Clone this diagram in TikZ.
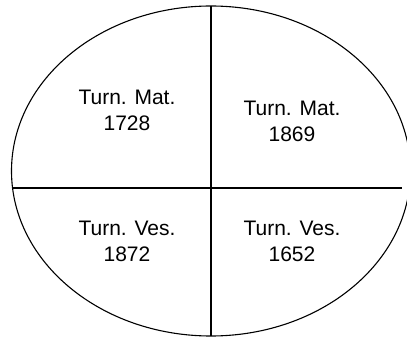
\documentclass[tikz,border=0pt]{standalone}
\usepackage{fontspec}
\setmainfont{Liberation Sans}
\usepackage{tikz}
\usetikzlibrary{positioning}

\tikzset{
  cell/.style={align=center, font=\fontsize{21}{26}\selectfont, inner sep=0pt}
}

\begin{document}
\begin{tikzpicture}[x=1pt, y=1pt, line width=1.1pt]
    \useasboundingbox (0,0) rectangle (407,340);
    \def\cx{211}
    \def\cy{169}
    \def\rx{199.5}
    \def\ry{165}

    % Ellipse
    \begin{scope}
      \clip (0,0) rectangle (407,340);
      \draw (\cx,\cy) ellipse [x radius=\rx, y radius=\ry];
    \end{scope}

    % Quadrant lines
    \draw (\cx, {\cy+\ry}) -- (\cx, {\cy-\ry});
    \draw (12.5,152) -- (402,152);

    % Labels
    \node[cell] (tl) at (127,230) {Turn. Mat.\\1728};
    \node[cell] (tr) at (292,218.5) {Turn. Mat.\\1869};
    \node[cell] (bl) at (127,98.5) {Turn. Ves.\\1872};
    \node[cell] (br) at (292,98.5) {Turn. Ves.\\1652};
\end{tikzpicture}
\end{document}
